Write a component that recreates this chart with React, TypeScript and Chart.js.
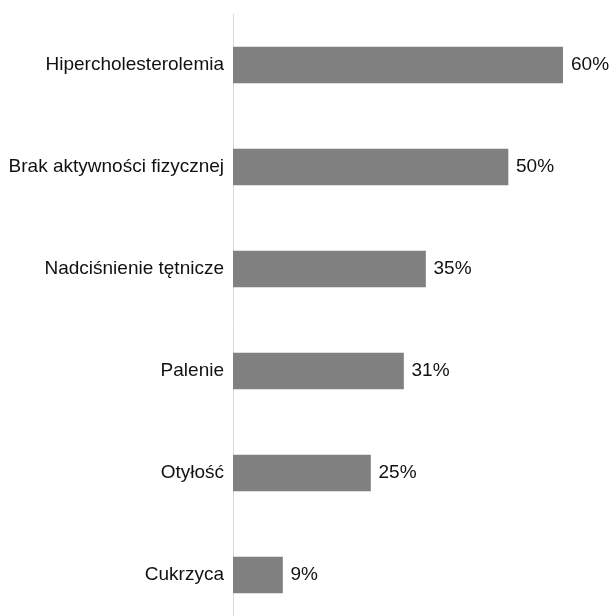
import React, { useEffect, useRef } from "react";
import { Chart, registerables } from "chart.js";

Chart.register(...registerables);

const categories = [
  "Hipercholesterolemia",
  "Brak aktywności fizycznej",
  "Nadciśnienie tętnicze",
  "Palenie",
  "Otyłość",
  "Cukrzyca",
];
const values = [60, 50, 35, 31, 25, 9];

const FONT = "'Liberation Sans', Arial, Helvetica, sans-serif";

const valueLabels = {
  id: "valueLabels",
  afterDatasetsDraw(chart: any) {
    const ctx = chart.ctx;
    const meta = chart.getDatasetMeta(0);
    ctx.save();
    ctx.font = `19px ${FONT}`;
    ctx.fillStyle = "#111";
    ctx.textAlign = "left";
    ctx.textBaseline = "middle";
    meta.data.forEach((bar: any, i: number) => {
      ctx.fillText(`${values[i]}%`, bar.x + 8, bar.y);
    });
    ctx.restore();
  },
};

export default function App() {
  const ref = useRef<HTMLCanvasElement>(null);
  useEffect(() => {
    if (!ref.current) return;
    const chart = new Chart(ref.current, {
      type: "bar",
      data: {
        labels: categories,
        datasets: [
          {
            data: values,
            backgroundColor: "#808080",
            barThickness: 36,
          },
        ],
      },
      options: {
        indexAxis: "y",
        responsive: false,
        animation: false,
        layout: { padding: { top: 14, bottom: 4, right: 48, left: 0 } },
        plugins: {
          legend: { display: false },
          tooltip: { enabled: false },
        },
        scales: {
          x: {
            display: false,
            min: 0,
            max: 60,
          },
          y: {
            grid: { display: false, drawTicks: false },
            border: { display: true, color: "#d9d9d9", width: 1 },
            ticks: {
              padding: 9,
              color: "#111",
              font: { family: FONT, size: 19 },
            },
            afterFit(scale: any) {
              scale.width = 233;
              scale.paddingTop = 0;
              scale.paddingBottom = 0;
            },
          },
        },
      },
      plugins: [valueLabels],
    });
    return () => chart.destroy();
  }, []);
  return (
    <div
      style={{
        position: "fixed",
        left: 0,
        top: 0,
        width: 611,
        height: 616,
        overflow: "hidden",
        background: "#fff",
      }}
    >
      <canvas ref={ref} width={611} height={630} style={{ display: "block", width: 611, height: 630 }} />
    </div>
  );
}
